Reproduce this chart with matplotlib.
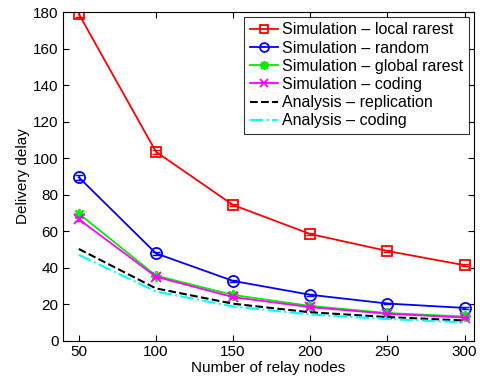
import matplotlib
matplotlib.use('Agg')
import matplotlib.pyplot as plt
import numpy as np

plt.rcParams['font.family'] = ['Liberation Sans', 'DejaVu Sans']

nodes = [50, 100, 150, 200, 250, 300]
local_rarest = [179, 103.5, 74.3, 58.4, 49.1, 41.3]
random_sel = [89.5, 47.8, 32.7, 25.1, 20.3, 17.9]
global_rarest = [69.6, 35.6, 25.0, 19.0, 15.1, 13.2]
coding_sim = [66.5, 35.0, 23.8, 18.3, 14.7, 12.6]
analysis_repl = [50.2, 28.6, 20.2, 15.5, 12.9, 11.0]
analysis_coding = [47.0, 26.9, 18.7, 14.3, 11.8, 10.0]
err_local = [1.5, 1.0, 0.8, 0.7, 0.6, 0.5]
err_random = [1.5, 0.8, 0.6, 0.5, 0.4, 0.4]
err_global = [1.2, 0.6, 0.5, 0.4, 0.3, 0.3]
err_coding = [1.2, 0.6, 0.5, 0.4, 0.3, 0.3]

fig = plt.figure(figsize=(4.8, 3.78), dpi=100)
ax = fig.add_axes([0.132, 0.099, 0.855, 0.869])

sims = [
    (local_rarest, err_local, 'red', 's', 7, 'Simulation \u2013 local rarest'),
    (random_sel, err_random, 'blue', 'o', 8, 'Simulation \u2013 random'),
    (global_rarest, err_global, '#00ee00', (8, 2, 0), 8, 'Simulation \u2013 global rarest'),
    (coding_sim, err_coding, 'magenta', 'x', 7, 'Simulation \u2013 coding'),
]
for vals, err, col, mk, ms, lab in sims:
    ax.errorbar(nodes, vals, yerr=err, color=col, ls='none', capsize=3, lw=1.0)
    ax.plot(nodes, vals, color=col, marker=mk, mfc='none', mew=1.3, ms=ms, lw=1.3, label=lab)

ax.plot(nodes, analysis_repl, color='black', ls='--', lw=1.5, label='Analysis \u2013 replication')
ax.plot(nodes, analysis_coding, color='cyan', ls='-.', lw=1.5, label='Analysis \u2013 coding')

ax.set_xlim(40, 306)
ax.set_ylim(0, 180)
ax.set_xticks(nodes)
ax.set_yticks(np.arange(0, 181, 20))
ax.tick_params(direction='in', top=True, right=True, labelsize=11, length=4)
ax.set_xlabel('Number of relay nodes', fontsize=11, labelpad=1)
ax.set_ylabel('Delivery delay', fontsize=11, labelpad=2)

leg = ax.legend(loc='upper right', fontsize=11.5, frameon=True, fancybox=False,
                edgecolor='black', handlelength=1.8, handletextpad=0.25,
                labelspacing=0.2, borderpad=0.35, borderaxespad=0.3, markerscale=0.8)
leg.get_frame().set_linewidth(0.8)

fig.savefig('out.png', dpi=100)
